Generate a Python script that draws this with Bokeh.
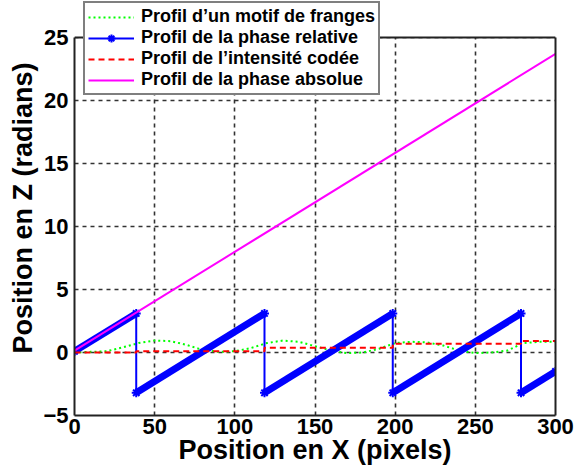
from bokeh.plotting import figure
from bokeh.models import (Range1d, FixedTicker, Legend, LegendItem, ColumnDataSource,
                          LinearAxis, Span)
from bokeh.embed import file_html
from bokeh.resources import INLINE

# ---- data ----
x_ticks = [0, 50, 100, 150, 200, 250, 300]
y_ticks = [-5, 0, 5, 10, 15, 20, 25]

fringe_x = [0, 10, 20, 30, 40, 50, 60, 70, 80, 90, 100, 110, 120, 130, 140, 150,
            160, 170, 180, 190, 200, 210, 220, 230, 240, 250, 260, 270, 280, 290, 300]
fringe_y = [0.0, 0.05, 0.1, 0.4, 0.75, 0.95, 0.9, 0.6, 0.2, 0.05, 0.1, 0.35, 0.75, 0.95, 0.85, 0.5,
            0.15, -0.05, 0.0, 0.3, 0.75, 0.85, 0.8, 0.55, 0.15, -0.05, 0.0, 0.15, 0.75, 0.85, 0.85]

rel_x = [0, 38.5, 38.5, 118.5, 118.5, 198.5, 198.5, 278.5, 278.5, 300]
rel_y = [0.1, 3.1, -3.2, 3.1, -3.2, 3.1, -3.2, 3.1, -3.2, -1.5]

code_x = [0, 38.5, 38.5, 118.5, 118.5, 198.5, 198.5, 278.5, 278.5, 300]
code_y = [0.0, 0.0, 0.1, 0.1, 0.37, 0.37, 0.7, 0.7, 0.92, 0.92]

abs_x = [0, 300]
abs_y = [0.14, 23.7]

labels = ["Profil d\u2019un motif de franges",
          "Profil de la phase relative",
          "Profil de l\u2019intensit\u00e9 cod\u00e9e",
          "Profil de la phase absolue"]
x_title = "Position en X (pixels)"
y_title = "Position en Z (radians)"

FONT = "Liberation Sans"
FRAME_COLOR = "#222222"

# ---- layout (pixels) ----
W, H = 576, 472
B_LEFT, B_RIGHT, B_BOTTOM = 74, 21, 57
BOX_TOP_PX = 37            # where y = 25 sits, measured from the top of the figure
frame_h = H - B_BOTTOM
y_lo, y_hi = y_ticks[0], y_ticks[-1]
px_per_unit = (frame_h - BOX_TOP_PX) / (y_hi - y_lo)
y_top = y_hi + BOX_TOP_PX / px_per_unit   # extra room above the box for the legend

p = figure(width=W, height=H, output_backend="svg", toolbar_location=None,
           x_range=Range1d(x_ticks[0], x_ticks[-1]), y_range=Range1d(y_lo, y_top),
           min_border_left=B_LEFT, min_border_right=B_RIGHT, min_border_top=0,
           min_border_bottom=B_BOTTOM)
p.background_fill_color = "white"
p.border_fill_color = "white"
p.outline_line_color = None

for ax in (p.xaxis[0], p.yaxis[0]):
    ax.axis_line_color = FRAME_COLOR
    ax.axis_line_width = 2
    ax.major_tick_in = 0
    ax.major_tick_out = 0
    ax.minor_tick_line_color = None
    ax.major_label_text_font = FONT
    ax.major_label_text_font_style = "bold"
    ax.major_label_text_font_size = "22px"
    ax.major_label_text_color = "black"
    ax.axis_label_text_font = FONT
    ax.axis_label_text_font_style = "bold"
    ax.axis_label_text_font_size = "27px"
    ax.axis_label_text_color = "black"

p.xaxis.ticker = FixedTicker(ticks=x_ticks)
p.yaxis.ticker = FixedTicker(ticks=y_ticks)
p.yaxis.bounds = (y_lo, y_hi)
p.xaxis.axis_label = x_title
p.yaxis.axis_label = y_title
p.xaxis.major_label_standoff = 3
p.yaxis.major_label_standoff = 6
p.xaxis.axis_label_standoff = -2
p.yaxis.axis_label_standoff = 2

# right side of the box
right_ax = LinearAxis(bounds=(y_lo, y_hi), ticker=FixedTicker(ticks=[]),
                      major_tick_in=0, major_tick_out=0, minor_tick_line_color=None,
                      axis_line_color=FRAME_COLOR, axis_line_width=2)
p.add_layout(right_ax, "right")

for g in (p.xgrid[0], p.ygrid[0]):
    g.grid_line_color = "#333333"
    g.grid_line_dash = "4 4"
    g.grid_line_width = 1.6

# blank the strip above the box (room for the legend)
p.quad(left=x_ticks[0], right=x_ticks[-1], bottom=y_hi, top=y_top,
       fill_color="white", line_color=None)

# fringe pattern (green dotted)
r_green = p.line(fringe_x, fringe_y, line_color="#00ff00", line_width=2, line_dash="2 3")

# relative phase (blue): thin full path + thick ramps + markers
r_blue = p.line(rel_x, rel_y, line_color="#0000ff", line_width=2)
ramps = ColumnDataSource(dict(x0=rel_x[0::2], y0=rel_y[0::2], x1=rel_x[1::2], y1=rel_y[1::2]))
p.segment(x0="x0", y0="y0", x1="x1", y1="y1", source=ramps,
          line_color="#0000ff", line_width=7)
r_blue_m = p.scatter(rel_x, rel_y, marker="asterisk", size=9, line_color="#0000ff", line_width=2)

# coded intensity (red dashed)
r_red = p.line(code_x, code_y, line_color="#ff0000", line_width=2, line_dash="6 4")

# absolute phase (magenta)
r_mag = p.line(abs_x, abs_y, line_color="#ff00ff", line_width=2)

# top side of the box
p.add_layout(Span(location=y_hi, dimension="width", line_color=FRAME_COLOR, line_width=2))

legend = Legend(items=[
    LegendItem(label=labels[0], renderers=[r_green]),
    LegendItem(label=labels[1], renderers=[r_blue, r_blue_m]),
    LegendItem(label=labels[2], renderers=[r_red]),
    LegendItem(label=labels[3], renderers=[r_mag]),
], location=(9, frame_h - 95))
legend.label_text_font = FONT
legend.label_text_font_style = "bold"
legend.label_text_font_size = "18px"
legend.label_text_color = "black"
legend.glyph_width = 46
legend.glyph_height = 20
legend.label_height = 20
legend.label_standoff = 7
legend.spacing = 0
legend.padding = 3
legend.margin = 0
legend.border_line_color = "black"
legend.border_line_width = 2
legend.background_fill_color = "white"
legend.background_fill_alpha = 1
p.add_layout(legend, "center")

open("out.html", "w").write(file_html(p, INLINE))
